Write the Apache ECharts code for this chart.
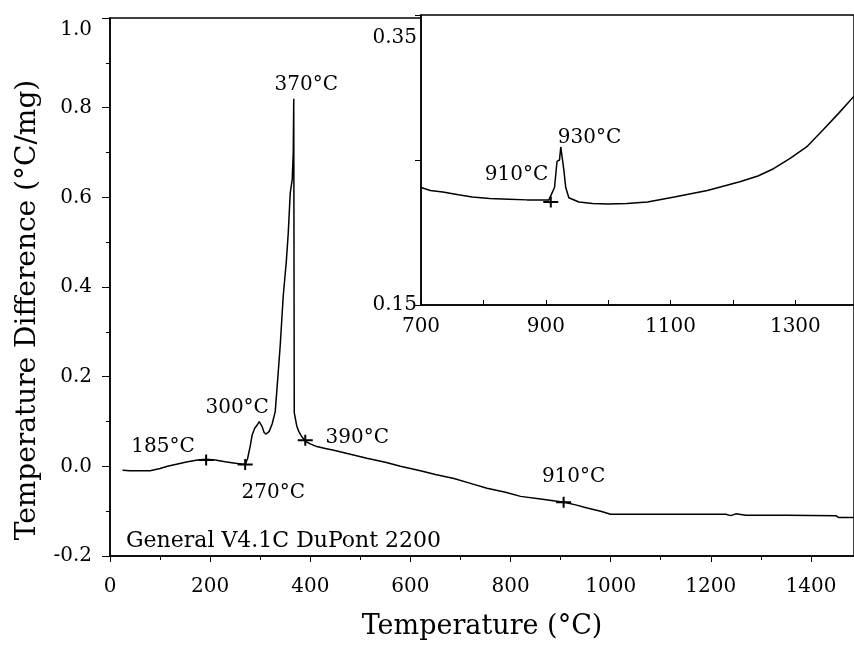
<!DOCTYPE html>
<html>
<head>
<meta charset="utf-8">
<script src="https://cdn.jsdelivr.net/npm/echarts@6/dist/echarts.min.js"></script>
<style>
  html, body { margin: 0; padding: 0; background: #fff; }
  #chart { width: 854px; height: 645px; }
</style>
</head>
<body>
<div id="chart"></div>
<script>
// main DTA trace, temperature (°C) vs temperature difference (°C/mg)
const mainTemps = [25, 40, 80, 100, 115, 135, 155, 175, 192, 210, 230, 250, 270, 275, 280, 284, 289, 294, 298, 304, 308, 312, 318, 324, 330, 334, 340, 346, 352, 356, 360, 364, 366, 367, 368, 373, 377, 382, 390, 400, 413, 430, 447, 480, 513, 550, 580, 600, 620, 650, 687, 720, 753, 790, 820, 860, 907, 930, 953, 980, 1000, 1100, 1230, 1240, 1250, 1270, 1350, 1450, 1455, 1486]
const mainValues = [-0.009, -0.010, -0.010, -0.005, 0.000, 0.005, 0.010, 0.014, 0.016, 0.014, 0.010, 0.007, 0.004, 0.018, 0.045, 0.070, 0.085, 0.092, 0.100, 0.088, 0.075, 0.072, 0.078, 0.095, 0.122, 0.180, 0.270, 0.380, 0.455, 0.520, 0.610, 0.640, 0.700, 0.820, 0.120, 0.090, 0.078, 0.068, 0.056, 0.050, 0.044, 0.040, 0.036, 0.027, 0.018, 0.009, 0.000, -0.005, -0.010, -0.018, -0.027, -0.038, -0.049, -0.058, -0.067, -0.073, -0.080, -0.086, -0.093, -0.100, -0.107, -0.107, -0.107, -0.110, -0.106, -0.109, -0.109, -0.110, -0.114, -0.114]

// inset trace 700-1390 °C
const insetTemps = [700, 715, 735, 760, 782, 810, 841, 870, 905, 914, 918, 922, 924, 927, 929, 932, 937, 953, 975, 1000, 1030, 1063, 1106, 1159, 1211, 1240, 1265, 1291, 1318, 1345, 1370, 1394]
const insetValues = [0.231, 0.229, 0.228, 0.226, 0.2245, 0.2235, 0.223, 0.2225, 0.2225, 0.231, 0.249, 0.250, 0.259, 0.260, 0.243, 0.231, 0.224, 0.221, 0.220, 0.2197, 0.220, 0.221, 0.2245, 0.229, 0.235, 0.239, 0.244, 0.251, 0.259, 0.271, 0.2825, 0.294]

// "+" onset markers
const mainMarks = [[192, 0.014], [270, 0.004], [390, 0.058], [906, -0.080]]
const insetMarks = [[908, 0.221]]

// temperature annotations [x, y, text]
const mainNotes = [[392, 0.851, '370°C'], [254, 0.131, '300°C'], [106, 0.044, '185°C'], [326, -0.060, '270°C'], [494, 0.064, '390°C'], [926, -0.024, '910°C']]
const insetNotes = [[970, 0.265, '930°C'], [853, 0.2397, '910°C']]

const mainXTicks = [0, 1486, 200]
const mainYTicks = [-0.2, 1.0, 0.2]
const insetXTicks = [700, 1394, 200]
const insetYTicks = [0.15, 0.35, 0.1]

const FONT = 'DejaVu Serif'
const plus = 'path://M0,4.5 L6.5,4.5 L6.5,0 L8.5,0 L8.5,4.5 L15,4.5 L15,6.5 L8.5,6.5 L8.5,11 L6.5,11 L6.5,6.5 L0,6.5 Z'

const chart = echarts.init(document.getElementById('chart'))

const axisCommon = {
  axisLine: { show: true, onZero: false, lineStyle: { color: '#000', width: 1.5 } },
  axisTick: { show: true, lineStyle: { color: '#000', width: 1 } },
  minorTick: { show: true, splitNumber: 2, length: 4, lineStyle: { color: '#000' } },
  splitLine: { show: false },
  axisLabel: { color: '#000', fontFamily: FONT, fontSize: 20, formatter: v => String(v) }
}

function notes(list, xi, yi) {
  return {
    type: 'scatter',
    xAxisIndex: xi,
    yAxisIndex: yi,
    symbolSize: 0,
    silent: true,
    z: 7,
    itemStyle: { color: '#000', opacity: 1 },
    data: list.map(n => ({ value: [n[0], n[1]], name: n[2] })),
    label: {
      show: true,
      position: [0, 0],
      align: 'center',
      verticalAlign: 'middle',
      formatter: p => p.name,
      color: '#000',
      opacity: 1,
      textBorderWidth: 0,
      fontFamily: FONT,
      fontSize: 20
    }
  }
}

const option = {
  backgroundColor: '#fff',
  animation: false,
  title: {
    text: 'General V4.1C DuPont 2200',
    left: 126,
    top: 530,
    padding: 0,
    textStyle: { fontFamily: FONT, fontSize: 22, fontWeight: 'normal', color: '#000' }
  },
  grid: [
    { left: 110, top: 18, right: -2, bottom: 88, show: true, borderColor: '#000', borderWidth: 1.5, backgroundColor: 'transparent' },
    { left: 421, top: 15, right: -2, bottom: 340, show: true, borderColor: '#000', borderWidth: 1.5, backgroundColor: '#fff', z: 3 }
  ],
  xAxis: [
    {
      ...axisCommon,
      type: 'value',
      gridIndex: 0,
      min: mainXTicks[0],
      max: mainXTicks[1],
      interval: mainXTicks[2],
      axisTick: { show: true, length: 6, lineStyle: { color: '#000' } },
      axisLabel: { ...axisCommon.axisLabel, margin: 21, showMaxLabel: false },
      name: 'Temperature (°C)',
      nameLocation: 'middle',
      nameGap: 57,
      nameTextStyle: { color: '#000', fontFamily: FONT, fontSize: 27 }
    },
    {
      ...axisCommon,
      type: 'value',
      gridIndex: 1,
      min: insetXTicks[0],
      max: insetXTicks[1],
      interval: insetXTicks[2],
      z: 4,
      axisTick: { show: true, inside: true, length: 5, lineStyle: { color: '#000' } },
      minorTick: { show: true, splitNumber: 2, length: 5, lineStyle: { color: '#000' } },
      axisLabel: { ...axisCommon.axisLabel, margin: 12, showMaxLabel: false }
    }
  ],
  yAxis: [
    {
      ...axisCommon,
      type: 'value',
      gridIndex: 0,
      min: mainYTicks[0],
      max: mainYTicks[1],
      interval: mainYTicks[2],
      axisTick: { show: true, length: 8, lineStyle: { color: '#000' } },
      axisLabel: {
        ...axisCommon.axisLabel,
        margin: 18,
        formatter: v => (Math.abs(v - 1) < 1e-9 ? '{t|1.0}' : v.toFixed(1)),
        rich: { t: { fontFamily: FONT, fontSize: 20, color: '#000', padding: [24, 0, 0, 0] } }
      },
      name: 'Temperature Difference (°C/mg)',
      nameLocation: 'middle',
      nameGap: 68,
      nameTextStyle: { color: '#000', fontFamily: FONT, fontSize: 28, padding: [0, 46, 0, 0] }
    },
    {
      ...axisCommon,
      type: 'value',
      gridIndex: 1,
      min: insetYTicks[0],
      max: insetYTicks[1],
      interval: insetYTicks[2],
      z: 4,
      axisTick: { show: true, length: 6, lineStyle: { color: '#000' } },
      minorTick: { show: false },
      axisLabel: {
        ...axisCommon.axisLabel,
        margin: 4,
        formatter: v => {
          if (Math.abs(v - 0.35) < 1e-9) return '{t|0.35}'
          if (Math.abs(v - 0.15) < 1e-9) return '0.15'
          return ''
        },
        rich: { t: { fontFamily: FONT, fontSize: 20, color: '#000', padding: [46, 0, 0, 0] } }
      }
    }
  ],
  series: [
    {
      type: 'line',
      xAxisIndex: 0,
      yAxisIndex: 0,
      data: mainTemps.map((t, i) => [t, mainValues[i]]),
      showSymbol: false,
      lineStyle: { color: '#000', width: 1.5 },
      z: 2
    },
    {
      type: 'scatter',
      xAxisIndex: 0,
      yAxisIndex: 0,
      data: mainMarks,
      symbol: plus,
      symbolSize: [15, 11],
      itemStyle: { color: '#000', opacity: 1 },
      z: 3
    },
    notes(mainNotes, 0, 0),
    {
      type: 'line',
      xAxisIndex: 1,
      yAxisIndex: 1,
      data: insetTemps.map((t, i) => [t, insetValues[i]]),
      showSymbol: false,
      lineStyle: { color: '#000', width: 1.5 },
      z: 6
    },
    {
      type: 'scatter',
      xAxisIndex: 1,
      yAxisIndex: 1,
      data: insetMarks,
      symbol: plus,
      symbolSize: [15, 11],
      itemStyle: { color: '#000', opacity: 1 },
      z: 6
    },
    notes(insetNotes, 1, 1)
  ]
}

chart.setOption(option)
window.addEventListener('resize', () => chart.resize())
</script>
</body>
</html>
